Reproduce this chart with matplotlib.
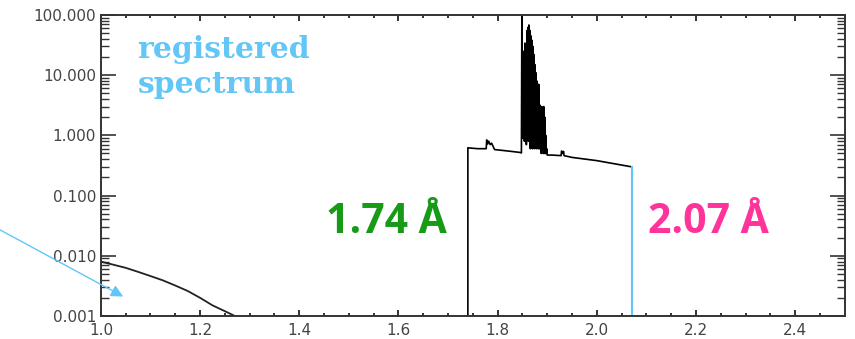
import matplotlib.pyplot as plt
from matplotlib.ticker import MultipleLocator, LogLocator, FormatStrFormatter, NullFormatter

# continuum tail on the left (wavelength in Angstrom, intensity)
tail_x = [1.0, 1.025, 1.05, 1.075, 1.1, 1.125, 1.15, 1.175, 1.2, 1.225, 1.25, 1.27]
tail_y = [0.0080, 0.0071, 0.0063, 0.0054, 0.0046, 0.0039, 0.0032, 0.0026, 0.0020, 0.0015, 0.0012, 0.0010]

# registered band 1.74 - 2.07 A
band_x = [1.74, 1.74, 1.76, 1.777, 1.778, 1.780, 1.782, 1.785, 1.788, 1.790, 1.793, 1.794, 1.82, 1.845, 1.848]
band_y = [0.001, 0.62, 0.60, 0.60, 0.84, 0.72, 0.80, 0.70, 0.74, 0.68, 0.60, 0.58, 0.55, 0.52, 0.51]

# dense line cluster around 1.85 - 1.90 A
peak_x = [1.849, 1.850, 1.852, 1.853, 1.854, 1.855, 1.856, 1.857, 1.858, 1.859,
          1.860, 1.861, 1.862, 1.863, 1.864, 1.865, 1.866, 1.867, 1.868, 1.869,
          1.870, 1.871, 1.872, 1.873, 1.874, 1.875, 1.876, 1.877, 1.878, 1.879,
          1.880, 1.881, 1.882, 1.883, 1.884, 1.885, 1.886, 1.887, 1.888, 1.889,
          1.890, 1.891, 1.892, 1.893, 1.894, 1.895, 1.896, 1.897, 1.898, 1.899, 1.900]
peak_y = [150, 0.9, 7, 25, 0.8, 34, 1.0, 30, 0.7, 55,
          2.0, 62, 0.8, 68, 1.5, 55, 0.6, 45, 1.0, 38,
          0.6, 30, 1.2, 22, 0.6, 15, 0.8, 11, 0.6, 8,
          0.7, 7, 0.6, 7, 0.6, 3.2, 0.6, 3.0, 0.5, 3.0,
          0.6, 2.8, 0.5, 3.0, 0.5, 2.0, 0.5, 1.0, 0.5, 0.6, 0.47]

tail2_x = [1.91, 1.928, 1.929, 1.931, 1.933, 1.934, 1.95, 2.00, 2.07]
tail2_y = [0.47, 0.46, 0.55, 0.50, 0.54, 0.46, 0.43, 0.38, 0.30]

edge_x = [2.07, 2.07]
edge_y = [0.30, 0.001]

yticks = [0.001, 0.01, 0.1, 1, 10, 100]
xticks = [1.0, 1.2, 1.4, 1.6, 1.8, 2.0, 2.2, 2.4]

light_blue = "#62c6f7"

fig = plt.figure(figsize=(8.55, 3.39), dpi=100)
ax = fig.add_axes([0.118, 0.068, 0.870, 0.888])

ax.plot(tail_x, tail_y, color="#222222", lw=1.3)
ax.plot(band_x + peak_x + tail2_x, band_y + peak_y + tail2_y, color="black", lw=1.2)
ax.plot(edge_x, edge_y, color=light_blue, lw=1.5)

ax.set_yscale("log")
ax.set_xlim(1.0, 2.5)
ax.set_ylim(0.001, 100)
ax.set_xticks(xticks)
ax.xaxis.set_minor_locator(MultipleLocator(0.05))
ax.set_yticks(yticks)
ax.yaxis.set_minor_locator(LogLocator(base=10, subs=range(2, 10)))
ax.yaxis.set_minor_formatter(NullFormatter())
ax.yaxis.set_major_formatter(FormatStrFormatter("%.3f"))
ax.xaxis.set_major_formatter(FormatStrFormatter("%.1f"))

ax.tick_params(axis="both", which="both", direction="in", top=True, right=True,
               colors="#333333", labelcolor="#444444", labelsize=11)
ax.tick_params(axis="y", which="major", length=11, width=1.2)
ax.tick_params(axis="y", which="minor", length=6, width=1.0)
ax.tick_params(axis="x", which="major", length=4, width=1.4, pad=5)
ax.tick_params(axis="x", which="minor", length=2, width=1.4)
for s in ax.spines.values():
    s.set_linewidth(1.4)
    s.set_color("#333333")

# labels
ax.text(1.074, 19.5, "registered", color=light_blue, family="DejaVu Serif",
        weight="bold", fontsize=21.5, va="baseline", ha="left")
ax.text(1.074, 5.0, "spectrum", color=light_blue, family="DejaVu Serif",
        weight="bold", fontsize=21.5, va="baseline", ha="left")
ax.text(1.453, 0.024, "1.74 Å", color="#179b17", family="Open Sans",
        weight="bold", fontsize=29.5, va="baseline", ha="left")
ax.text(2.103, 0.024, "2.07 Å", color="#ff3399", family="Open Sans",
        weight="bold", fontsize=29.5, va="baseline", ha="left")

# arrow coming in from the left edge of the figure
ax.annotate("", xy=(1.045, 0.0021), xycoords="data",
            xytext=(0.0, 0.322), textcoords="figure fraction",
            arrowprops=dict(arrowstyle="-|>", color=light_blue, lw=1.0,
                            mutation_scale=18, shrinkA=0, shrinkB=0),
            annotation_clip=False)

fig.savefig("out.png", dpi=100)
